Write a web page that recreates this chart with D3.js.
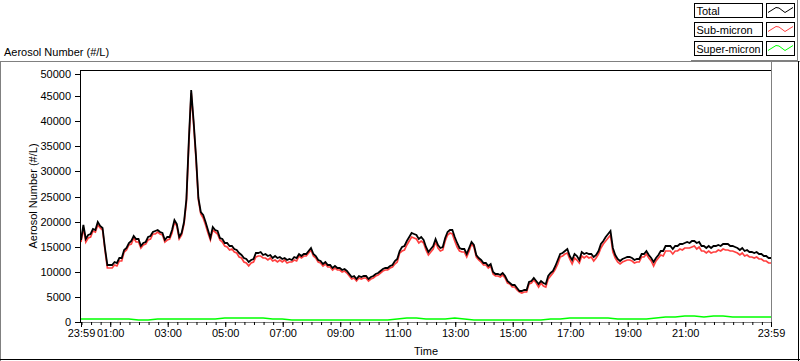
<!DOCTYPE html>
<html><head><meta charset="utf-8">
<script src="https://cdn.jsdelivr.net/npm/d3@7"></script>
<style>
html,body{margin:0;padding:0;background:#fff;}
svg{display:block;font-family:"Liberation Sans",Arial,sans-serif;}
</style></head><body>
<svg id="chart" width="800" height="361"></svg>
<script>
const seriesNames = ["Total", "Sub-micron", "Super-micron"];
const seriesColors = ["#000000", "#ff4040", "#00ff00"];
const stepMinutes = 5;        // total & sub-micron sample step, minutes after 23:59
const superStepMinutes = 20;  // super-micron sample step
const total = [
16400,19300,16500,17300,17500,18600,18400,19900,19200,18800,
14800,11400,11300,11300,11900,11700,12700,12800,14400,14800,
15800,16100,17200,16500,16500,15200,15800,16000,16900,17100,
18000,18100,18400,18000,17800,16400,16900,17000,18300,20400,
19600,17000,17800,20000,24500,36000,46200,40000,33000,24800,
22000,21300,19900,18300,16800,18900,18400,18100,16800,16600,
15800,15700,15100,15200,14600,14400,13700,13400,12700,12500,
11900,12400,12600,13700,13800,13900,13400,13500,13100,13400,
12800,13100,12700,12900,12500,12800,12300,12500,12400,12900,
12700,13500,13200,13600,13600,14200,
14800,13600,13200,12400,12100,11600,11900,11400,11400,10700,
11100,10800,10800,10400,10500,10100,9500,9000,9100,8600,
9100,8900,9200,9200,8500,8900,9100,9500,9700,10100,
10600,10800,10700,11100,11400,12100,12500,14200,14900,15100,
16100,16900,17800,17600,17400,16500,16900,16400,15000,14000,
14600,15200,16500,15300,14800,14900,16700,17900,18400,18300,
16900,15700,14800,14600,14500,13600,14800,16000,15300,13400,
12800,12400,11700,11800,11100,11600,9900,9600,9600,9400,
9800,9100,8100,7800,7300,7300,6700,6200,6100,6300,
6300,7900,8100,8700,8100,
7500,8200,7700,7500,9100,9700,10200,11100,12300,13500,
13700,14100,14500,13200,12300,13500,13100,12400,13900,13500,
13800,13500,13600,12900,13400,14200,15500,16200,17000,17500,
18100,14800,13300,12600,12200,12600,12800,13000,12900,12800,
12400,12500,12600,13500,13600,14100,13400,12800,11900,12800,
13400,14100,14200,15100,15200,15100,14600,15100,15100,15500,
15500,15800,15900,15800,16100,16200,15700,16000,15200,15100,
14800,15200,14800,15100,15100,15400,15200,15600,15500,15500,
15200,15200,14900,14700,14300,14700,14200,14300,13900,14000,
13700,14000,13500,13600,13200,13200,12800,12700
];
const subMicron = [
15900,18800,16000,16800,17000,18100,17900,19400,18700,18300,
14300,10850,10750,10750,11350,11150,12150,12250,13850,14250,
15320,15620,16720,16020,16020,14720,15320,15520,16420,16620,
17520,17600,17900,17500,17300,15900,16400,16500,17800,19900,
19100,16500,17300,19480,23980,35480,45680,39480,32480,24280,
21480,20780,19380,17780,16280,18350,17850,17550,16250,15900,
15100,15000,14400,14500,13900,13700,13000,12700,12000,11800,
11200,11700,11900,13000,13100,13200,12700,12800,12400,12750,
12150,12450,12050,12400,12000,12300,11800,12050,11950,12450,
12250,13050,12750,13150,13150,13800,
14400,13200,12800,12000,11700,11200,11500,11050,11050,10350,
10750,10450,10450,10050,10150,9750,9150,8650,8750,8250,
8750,8550,8850,8850,8150,8550,8750,9100,9300,9700,
10200,10400,10300,10700,11000,11550,11950,13650,14100,14300,
15300,16100,17000,16800,16600,15700,16100,15750,14350,13350,
13950,14600,15900,14700,14200,14300,16100,17300,17800,17600,
16200,15000,14100,13950,13850,12950,14150,15550,14850,12950,
12350,12000,11300,11400,10700,11200,9500,9200,9200,9050,
9450,8750,7750,7500,7000,7000,6400,5900,5800,6000,
6000,7550,7750,8350,7750,
7050,7750,7250,7050,8600,9200,9700,10600,11650,12850,
13050,13450,13800,12500,11600,12800,12400,11700,13200,12800,
13050,12750,12850,12150,12650,13450,14750,15450,16200,16700,
17300,14000,12650,11950,11550,11950,12200,12400,12300,12200,
11800,11900,12000,12900,12950,13450,12750,12150,11200,12100,
12700,13400,13200,14100,14200,14100,13550,14050,14050,14450,
14400,14700,14800,14700,15000,15100,14600,14900,14150,14050,
13750,14150,13700,14000,14000,14300,14100,14500,14400,14400,
14150,14150,13850,13650,13250,13650,13150,13250,12900,13000,
12700,13000,12500,12600,12200,12200,11850,11750
];
const superMicron = [
500,550,500,550,600,500,450,450,500,500,
550,500,500,550,550,700,700,750,700,700,
650,500,450,450,400,400,350,350,350,350,
350,400,400,550,800,800,650,600,600,700,
650,450,400,400,350,300,300,350,450,500,
650,700,700,750,750,800,650,600,600,650,
700,1000,1050,1100,1100,1050,1100,1100,1050,1050,
1000,1000,950
];
const yTicks = [0,5000,10000,15000,20000,25000,30000,35000,40000,45000,50000];
const xTickMinutes = [0,61,181,301,421,541,661,781,901,1021,1141,1261,1440];
const xTickLabels = ["23:59","01:00","03:00","05:00","07:00","09:00","11:00","13:00","15:00","17:00","19:00","21:00","23:59"];
const xMinorTicks = d3.range(1, 1440, 20);

const svg = d3.select("#chart");
const L = 81, R = 771, T = 71, B = 322;
const x = d3.scaleLinear().domain([0, 1440]).range([L, R]);
const y = d3.scaleLinear().domain([0, 50000]).rangeRound([B, T]);

// outer frame
svg.append("line").attr("x1",0).attr("x2",800).attr("y1",61.5).attr("y2",61.5).attr("stroke","#808080");
svg.append("line").attr("x1",0.5).attr("x2",0.5).attr("y1",61).attr("y2",361).attr("stroke","#808080");
svg.append("line").attr("x1",0).attr("x2",800).attr("y1",359.5).attr("y2",359.5).attr("stroke","#000");
svg.append("line").attr("x1",798.5).attr("x2",798.5).attr("y1",61).attr("y2",361).attr("stroke","#000");
// legend panel edges
svg.append("line").attr("x1",691).attr("x2",797).attr("y1",60.5).attr("y2",60.5).attr("stroke","#808080");
svg.append("line").attr("x1",797.5).attr("x2",797.5).attr("y1",0).attr("y2",61).attr("stroke","#808080");

// plot frame
svg.append("line").attr("x1",L-1).attr("x2",R+1).attr("y1",T-0.5).attr("y2",T-0.5).attr("stroke","#000");
svg.append("line").attr("x1",L-0.5).attr("x2",L-0.5).attr("y1",T-1).attr("y2",B+1).attr("stroke","#000");
svg.append("line").attr("x1",R+0.5).attr("x2",R+0.5).attr("y1",62).attr("y2",B+1).attr("stroke","#808080");
svg.append("line").attr("x1",L).attr("x2",R+1).attr("y1",B+0.5).attr("y2",B+0.5).attr("stroke","#808080");

// titles
svg.append("text").attr("x",4).attr("y",56).attr("font-size",11).text("Aerosol Number (#/L)");
svg.append("text").attr("transform","translate(37,196) rotate(-90)").attr("text-anchor","middle")
  .attr("font-size",11).text("Aerosol Number (#/L)");
svg.append("text").attr("x",(L+R)/2).attr("y",355).attr("text-anchor","middle").attr("font-size",11).text("Time");

// y axis
const yAxis = svg.append("g").attr("transform",`translate(${L-1},0)`)
  .call(d3.axisLeft(y).tickValues(yTicks).tickSize(5).tickPadding(4).tickFormat(d3.format("d")));
yAxis.select(".domain").remove();
yAxis.selectAll("text").attr("font-size",11).attr("font-family","Liberation Sans, Arial, sans-serif").attr("fill","#000");
yAxis.selectAll(".tick").filter(d => d === 50000).attr("transform", `translate(0,${y(50000)+3.5})`);

// x axis minor ticks
const xMinor = svg.append("g").attr("transform",`translate(0,${B})`)
  .call(d3.axisBottom(x).tickValues(xMinorTicks).tickSize(3).tickFormat(""));
xMinor.select(".domain").remove();
const xAxis = svg.append("g").attr("transform",`translate(0,${B})`)
  .call(d3.axisBottom(x).tickValues(xTickMinutes).tickSize(5).tickPadding(2)
    .tickFormat((d,i) => xTickLabels[i]));
xAxis.select(".domain").remove();
xAxis.selectAll("text").attr("font-size",11).attr("font-family","Liberation Sans, Arial, sans-serif").attr("fill","#000");

// data lines
svg.append("clipPath").attr("id","clip").append("rect").attr("x",L).attr("y",T).attr("width",R-L).attr("height",B-T);
const g = svg.append("g").attr("clip-path","url(#clip)");
const lineStep = step => d3.line().x((d,i) => x(i*step)).y(d => y(d));
g.append("path").datum(superMicron).attr("d", lineStep(superStepMinutes))
  .attr("fill","none").attr("stroke",seriesColors[2]).attr("stroke-width",1.3);
g.append("path").datum(subMicron).attr("d", lineStep(stepMinutes))
  .attr("fill","none").attr("stroke",seriesColors[1]).attr("stroke-width",1.7);
g.append("path").datum(total).attr("d", lineStep(stepMinutes))
  .attr("fill","none").attr("stroke",seriesColors[0]).attr("stroke-width",1.8);

// legend
const leg = svg.append("g");
seriesNames.forEach((name, i) => {
  const yy = 3.5 + i * 19;
  leg.append("rect").attr("x",694.5).attr("y",yy).attr("width",68).attr("height",14)
    .attr("fill","#fff").attr("stroke","#000");
  const t = leg.append("text").attr("x",696.5).attr("y",yy+11.5).attr("font-size",11).text(name);
  if (t.node().getComputedTextLength() > 64) t.attr("textLength", 64).attr("lengthAdjust","spacingAndGlyphs");
  leg.append("rect").attr("x",766.5).attr("y",yy).attr("width",28).attr("height",14)
    .attr("fill","#fff").attr("stroke","#000");
  leg.append("polyline").attr("points",[[768,yy+9],[776,yy+4],[779,yy+4.5],[785,yy+9],[793,yy+4]].join(" "))
    .attr("fill","none").attr("stroke",seriesColors[i]).attr("stroke-width",1);
});
</script>
</body></html>
